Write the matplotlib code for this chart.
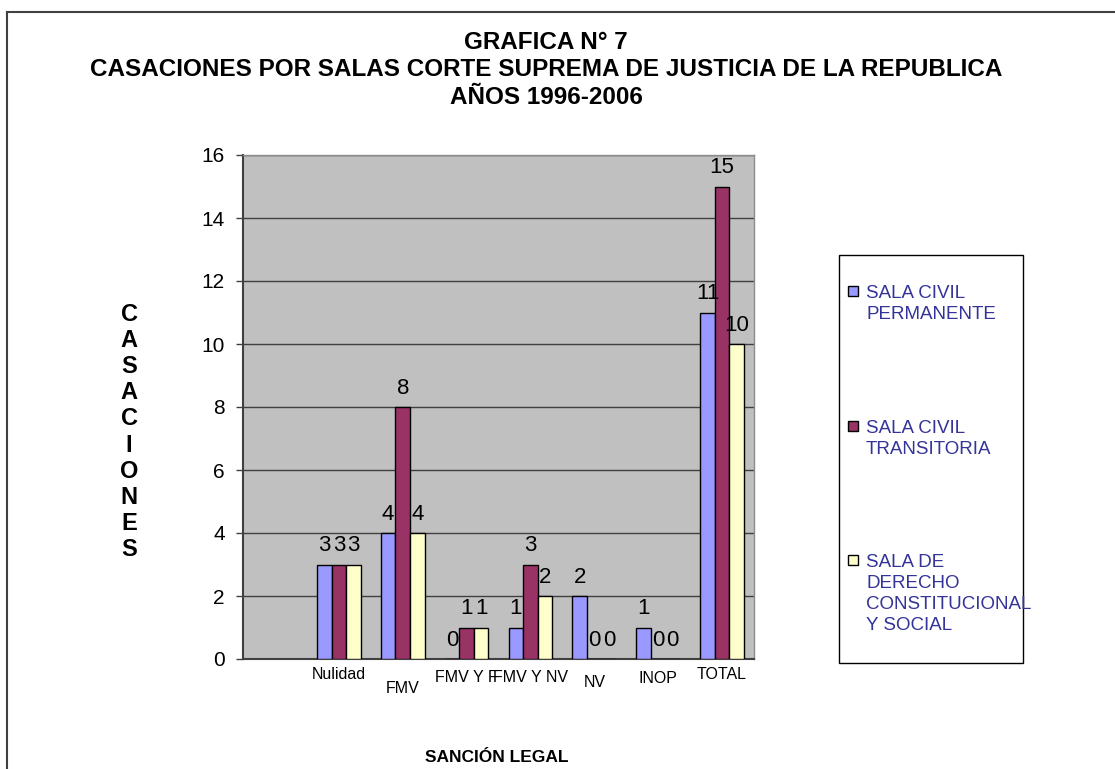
import matplotlib
matplotlib.use("Agg")
import matplotlib.pyplot as plt
from matplotlib.patches import Rectangle
from matplotlib.lines import Line2D
import numpy as np

plt.rcParams['font.family'] = ['Liberation Sans', 'DejaVu Sans']

categories = ["", "Nulidad", "FMV", "FMV Y F", "FMV Y NV", "NV", "INOP", "TOTAL"]
sala_permanente = [np.nan, 3, 4, 0, 1, 2, 1, 11]
sala_transitoria = [np.nan, 3, 8, 1, 3, 0, 0, 15]
sala_constitucional = [np.nan, 3, 4, 1, 2, 0, 0, 10]
series_names = ["SALA CIVIL\nPERMANENTE", "SALA CIVIL\nTRANSITORIA",
                "SALA DE\nDERECHO\nCONSTITUCIONAL\nY SOCIAL"]
colors = ["#9999FF", "#993366", "#FFFFCC"]

W, H = 1115, 769
fig = plt.figure(figsize=(W / 100, H / 100), dpi=100)


def fx(px):
    return px / W


def fy(py):
    return 1 - py / H


# outer frame (top and left only, rest cut off)
fig.add_artist(Line2D([fx(7), 1.0], [fy(12), fy(12)], color="#404040", lw=1.5))
fig.add_artist(Line2D([fx(7), fx(7)], [fy(12), 0.0], color="#404040", lw=1.5))

ax = fig.add_axes([fx(243), fy(659), fx(754) - fx(243), fy(155) - fy(659)])
ax.set_facecolor("#C0C0C0")

x = np.arange(len(categories))
bw = 0.228
all_series = [sala_permanente, sala_transitoria, sala_constitucional]
for i, vals in enumerate(all_series):
    bars = ax.bar(x + (i - 1) * bw, vals, bw, color=colors[i],
                  edgecolor="black", linewidth=1.0, zorder=3)
    labels = ["" if np.isnan(v) else "%d" % v for v in vals]
    ax.bar_label(bars, labels=labels, padding=6, fontsize=16, zorder=4)

ax.set_xlim(-0.5, len(categories) - 0.5)
ax.set_ylim(0, 16)
ax.set_yticks(np.arange(0, 17, 2))
ax.yaxis.grid(True, color="#404040", lw=1.0, zorder=1)
ax.tick_params(axis="y", length=5, width=1, color="#404040", pad=8, labelsize=15)
ax.set_xticks(x)
ax.set_xticklabels(categories, fontsize=11.5)
ax.tick_params(axis="x", length=0)
# staggered category labels like the original
pads_px = [8, 8, 22, 11, 11, 16, 12, 8]
for tick, p in zip(ax.xaxis.get_major_ticks(), pads_px):
    tick.set_pad(p * 0.72)

for s in ["left", "bottom"]:
    ax.spines[s].set_color("#404040")
    ax.spines[s].set_linewidth(1.5)
for s in ["top", "right"]:
    ax.spines[s].set_color("#8c8c8c")
    ax.spines[s].set_linewidth(1.0)

# titles
fig.text(fx(546), fy(70), "GRAFICA N° 7\nCASACIONES POR SALAS CORTE SUPREMA DE JUSTICIA DE LA REPUBLICA\nAÑOS 1996-2006",
         ha="center", va="center", fontsize=17.5, fontweight="bold", linespacing=1.25)
fig.text(fx(129), fy(432), "\n".join("CASACIONES"), ha="center", va="center",
         fontsize=17, fontweight="bold", linespacing=1.17)
fig.text(fx(497), fy(758), "SANCIÓN LEGAL", ha="center", va="center",
         fontsize=12.5, fontweight="bold")

# legend box
fig.add_artist(Rectangle((fx(839), fy(663)), fx(1023) - fx(839), fy(255) - fy(663),
                         transform=fig.transFigure, facecolor="white",
                         edgecolor="black", lw=1.0))
tops = [286, 421, 555]
for name, c, t in zip(series_names, colors, tops):
    fig.add_artist(Rectangle((fx(848), fy(t + 10)), fx(10), 10 / H,
                             transform=fig.transFigure, facecolor=c,
                             edgecolor="black", lw=1.0))
    fig.text(fx(866), fy(t - 1), name, ha="left", va="top", fontsize=13.5,
             color="#333399", linespacing=1.32)

fig.savefig("out.png", dpi=100)
